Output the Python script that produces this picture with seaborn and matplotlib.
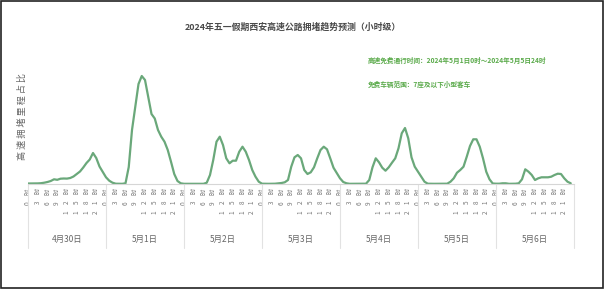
import matplotlib
matplotlib.use("Agg")
import matplotlib.pyplot as plt
import seaborn as sns
import pandas as pd
import numpy as np
from matplotlib.patches import Rectangle

sns.set_theme(style="white")
plt.rcParams['font.family'] = ['Noto Sans CJK SC', 'DejaVu Sans']

title = "2024年五一假期西安高速公路拥堵趋势预测（小时级）"
note1 = "高速免费通行时间：2024年5月1日0时～2024年5月5日24时"
note2 = "免费车辆范围：7座及以下小型客车"
y_label = "高速拥堵里程占比"
days = ["4月30日", "5月1日", "5月2日", "5月3日", "5月4日", "5月5日", "5月6日"]
hour_ticks = [0, 3, 6, 9, 12, 15, 18, 21]

# hourly congestion values (relative units), 24 per day
day1 = [0.5, 0.5, 0.5, 0.6, 0.8, 1.3, 2, 3, 4.7, 4.2, 5.3, 5.5, 5.4, 6, 7.5, 10, 12.5, 16.5, 21, 24.5, 31, 26, 17.5, 12]
day2 = [6.7, 3.3, 1.3, 0.3, 0.3, 0.2, 0.7, 17, 54, 77, 100, 108, 104, 87, 70, 65.5, 54, 47.3, 42.3, 34, 22.3, 10, 3, 0.7]
day3 = [0.2, 0.2, 0.2, 0.2, 0.2, 0.2, 0.2, 1.3, 9, 24, 42.3, 47.3, 39, 25.7, 20.7, 23.3, 23.3, 32.3, 37.3, 32.3, 24, 14, 7.3, 2.3]
day4 = [0.3, 0.2, 0.2, 0.2, 0.3, 0.7, 1, 1.7, 4, 17.3, 26.7, 29, 25.7, 14, 10, 11.7, 16.7, 25.7, 34, 37.3, 34.7, 25.7, 16.3, 11]
day5 = [5.7, 2, 0.7, 0.2, 0.2, 0.2, 0.2, 0.2, 0.3, 4, 16.7, 25.7, 21.7, 16.3, 13.3, 16.7, 21.3, 25.7, 35.7, 50.7, 56, 45.7, 26.7, 17.3]
day6 = [12.3, 7.3, 2.3, 0.3, 0.2, 0.2, 0.2, 0.2, 0.3, 0.3, 2.3, 5.7, 11.3, 14, 17.3, 27.3, 38, 44.7, 44.7, 37.3, 25.7, 12.3, 4.7, 0.5]
day7 = [0.3, 0.3, 0.7, 0.7, 0.2, 0.2, 0.3, 0.7, 4.7, 14.7, 12.3, 9, 4, 5.7, 6.7, 6.7, 6.7, 7.3, 9, 10.3, 10, 5.7, 2.3, 0.7]

values = day1 + day2 + day3 + day4 + day5 + day6 + day7
df = pd.DataFrame({"hour": np.arange(len(values)), "value": values})

W, H = 605, 292
fig = plt.figure(figsize=(W / 100, H / 100), dpi=100)
ax_left, ax_right, ax_bottom, ax_top = 28, 574, 184, 64
ax = fig.add_axes([ax_left / W, 1 - ax_bottom / H, (ax_right - ax_left) / W, (ax_bottom - ax_top) / H])

sns.lineplot(data=df, x="hour", y="value", ax=ax, color="#6aa87a", linewidth=1.6)

ndays = len(days)
ax.set_xlim(0, 24 * ndays)
ax.set_ylim(0, 120)
for s in ["top", "right", "left"]:
    ax.spines[s].set_visible(False)
ax.spines["bottom"].set_color("#d6d6d6")
ax.spines["bottom"].set_linewidth(0.8)
ax.set_yticks([])
ax.set_xlabel("")
ax.set_ylabel("")


def spaced(s):
    return "\u3000".join(list(s))


ticks = [d * 24 + h for d in range(ndays) for h in hour_ticks]
ax.set_xticks(ticks)
ax.set_xticklabels([spaced(f"{t % 24}时") for t in ticks], rotation=90, fontsize=4.6, color="#777777")
ax.tick_params(axis="x", length=0, pad=3)

trans = ax.get_xaxis_transform()
for d in range(ndays + 1):
    ax.plot([d * 24, d * 24], [0, -0.53], transform=trans, color="#e2e2e2", lw=0.8, clip_on=False)
for d, lab in enumerate(days):
    ax.text(d * 24 + 12, -0.465, lab, transform=trans, ha="center", va="center", fontsize=6, color="#666666")

fig.text(293 / W, 1 - 27 / H, title, ha="center", va="center", fontsize=6.4, fontweight="bold", color="#4a4a4a")
fig.text(368 / W, 1 - 60 / H, note1, ha="left", va="center", fontsize=4.8, fontweight="bold", color="#5aaa4a")
fig.text(368 / W, 1 - 84 / H, note2, ha="left", va="center", fontsize=4.8, fontweight="bold", color="#5aaa4a")
fig.text(22 / W, 1 - 117 / H, " ".join(list(y_label)), ha="center", va="center", rotation=90,
         fontsize=6.6, color="#666666")

fig.patches.append(Rectangle((0.001, 0.012), 0.995, 0.985, transform=fig.transFigure,
                             fill=False, edgecolor="#222222", linewidth=1.2))

fig.savefig("out.png", dpi=100)
